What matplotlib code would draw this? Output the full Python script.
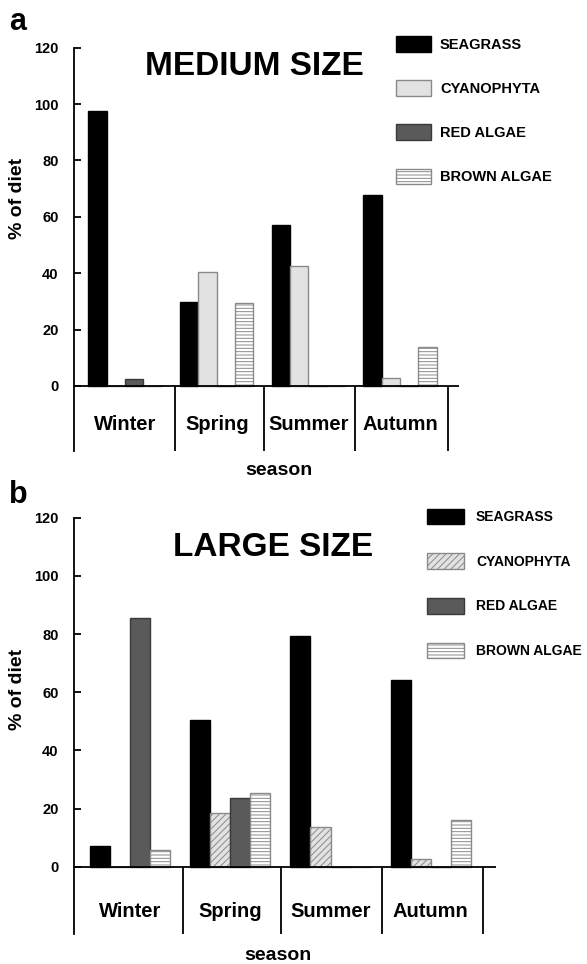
import matplotlib
matplotlib.use("Agg")
import matplotlib.pyplot as plt

plt.rcParams['font.family'] = ['Liberation Sans', 'DejaVu Sans']
plt.rcParams['hatch.linewidth'] = 0.7

# data (% of diet)
seasons = ['Winter', 'Spring', 'Summer', 'Autumn']
groups = ['SEAGRASS', 'CYANOPHYTA', 'RED ALGAE', 'BROWN ALGAE']

medium_seagrass = [97.7, 29.9, 57.1, 67.8]
medium_cyano = [0, 40.5, 42.6, 2.7]
medium_red = [2.4, 0, 0, 0]
medium_brown = [0, 29.3, 0, 13.9]

large_seagrass = [7.1, 50.4, 79.4, 64.2]
large_cyano = [0, 18.6, 13.8, 2.5]
large_red = [85.4, 23.5, 0, 0]
large_brown = [5.7, 25.5, 0, 16.1]

yticks = [0, 20, 40, 60, 80, 100, 120]


def draw_panel(ax, series, cyan_hatch, title, title_xy, seps, xlim, label_y):
    styles = [
        dict(color='black', edgecolor='black', hatch=None),
        dict(color='#e2e2e2', edgecolor='#8a8a8a', hatch=cyan_hatch),
        dict(color='#5a5a5a', edgecolor='#3a3a3a', hatch=None),
        dict(color='white', edgecolor='#8a8a8a', hatch='-----'),
    ]
    xs = range(len(seasons))
    for k, (vals, st, name) in enumerate(zip(series, styles, groups)):
        ax.bar([x - 0.4 + k * 0.2 for x in xs], vals, width=0.2, align='edge',
               color=st['color'], edgecolor=st['edgecolor'], hatch=st['hatch'],
               linewidth=1.0, label=name, zorder=2)
    ax.set_xlim(*xlim)
    ax.set_ylim(-23, 120)
    ax.axhline(0, color='black', lw=1.3, zorder=3)
    ax.vlines(seps, -23, 0, color='black', lw=1.3)
    for sp in ['top', 'right', 'bottom']:
        ax.spines[sp].set_visible(False)
    ax.spines['left'].set_linewidth(1.3)
    ax.set_xticks([])
    ax.set_yticks(yticks)
    ax.tick_params(axis='y', direction='in', length=5, width=1.3, labelsize=10.5, pad=11)
    for lab in ax.get_yticklabels():
        lab.set_fontweight('bold')
    for i, s in enumerate(seasons):
        ax.text(i, label_y, s, ha='center', va='center', fontsize=14.5, fontweight='bold')
    ax.text(title_xy[0], title_xy[1], title, transform=ax.figure.transFigure,
            ha='center', va='center', fontsize=24, fontweight='bold')


fig = plt.figure(figsize=(5.87, 9.64), dpi=100)
W, H = 587, 964

ax_a = fig.add_axes([73.8 / W, 1 - 450.8 / H, 384.8 / W, 403.1 / H])
draw_panel(ax_a, [medium_seagrass, medium_cyano, medium_red, medium_brown], None,
           'MEDIUM SIZE', (254.6 / W, 1 - 66.7 / H),
           [0.55, 1.52, 2.51, 3.52], (-0.56, 3.64), -13.5)

ax_b = fig.add_axes([73.8 / W, 1 - 933.6 / H, 422.2 / W, 415.9 / H])
draw_panel(ax_b, [large_seagrass, large_cyano, large_red, large_brown], '/////',
           'LARGE SIZE', (273.3 / W, 1 - 547.5 / H),
           [0.53, 1.51, 2.51, 3.52], (-0.56, 3.65), -15.5)

# legends
ax_a.legend(loc='upper left', bbox_to_anchor=(395.7 / W, 1 - 36 / H),
            bbox_transform=fig.transFigure, frameon=False, borderpad=0,
            borderaxespad=0, handlelength=2.4, handleheight=1.3,
            handletextpad=0.64, labelspacing=1.94,
            prop=dict(size=10.5, weight='bold'))
ax_b.legend(loc='upper left', bbox_to_anchor=(426.7 / W, 1 - 508.5 / H),
            bbox_transform=fig.transFigure, frameon=False, borderpad=0,
            borderaxespad=0, handlelength=2.7, handleheight=1.35,
            handletextpad=0.85, labelspacing=2.1,
            prop=dict(size=10, weight='bold'))

# axis labels
fig.text(17 / W, 1 - 198 / H, '% of diet', rotation=90, ha='center', va='center',
         fontsize=14, fontweight='bold')
fig.text(17 / W, 1 - 689 / H, '% of diet', rotation=90, ha='center', va='center',
         fontsize=14, fontweight='bold')
fig.text(279 / W, 1 - 470 / H, 'season', ha='center', va='center',
         fontsize=14, fontweight='bold')
fig.text(278 / W, 1 - 955 / H, 'season', ha='center', va='center',
         fontsize=14, fontweight='bold')

# panel letters
fig.text(9 / W, 1 - 30 / H, 'a', ha='left', va='baseline', fontsize=22, fontweight='bold')
fig.text(9 / W, 1 - 503 / H, 'b', ha='left', va='baseline', fontsize=22, fontweight='bold')

fig.savefig('out.png', dpi=100)
